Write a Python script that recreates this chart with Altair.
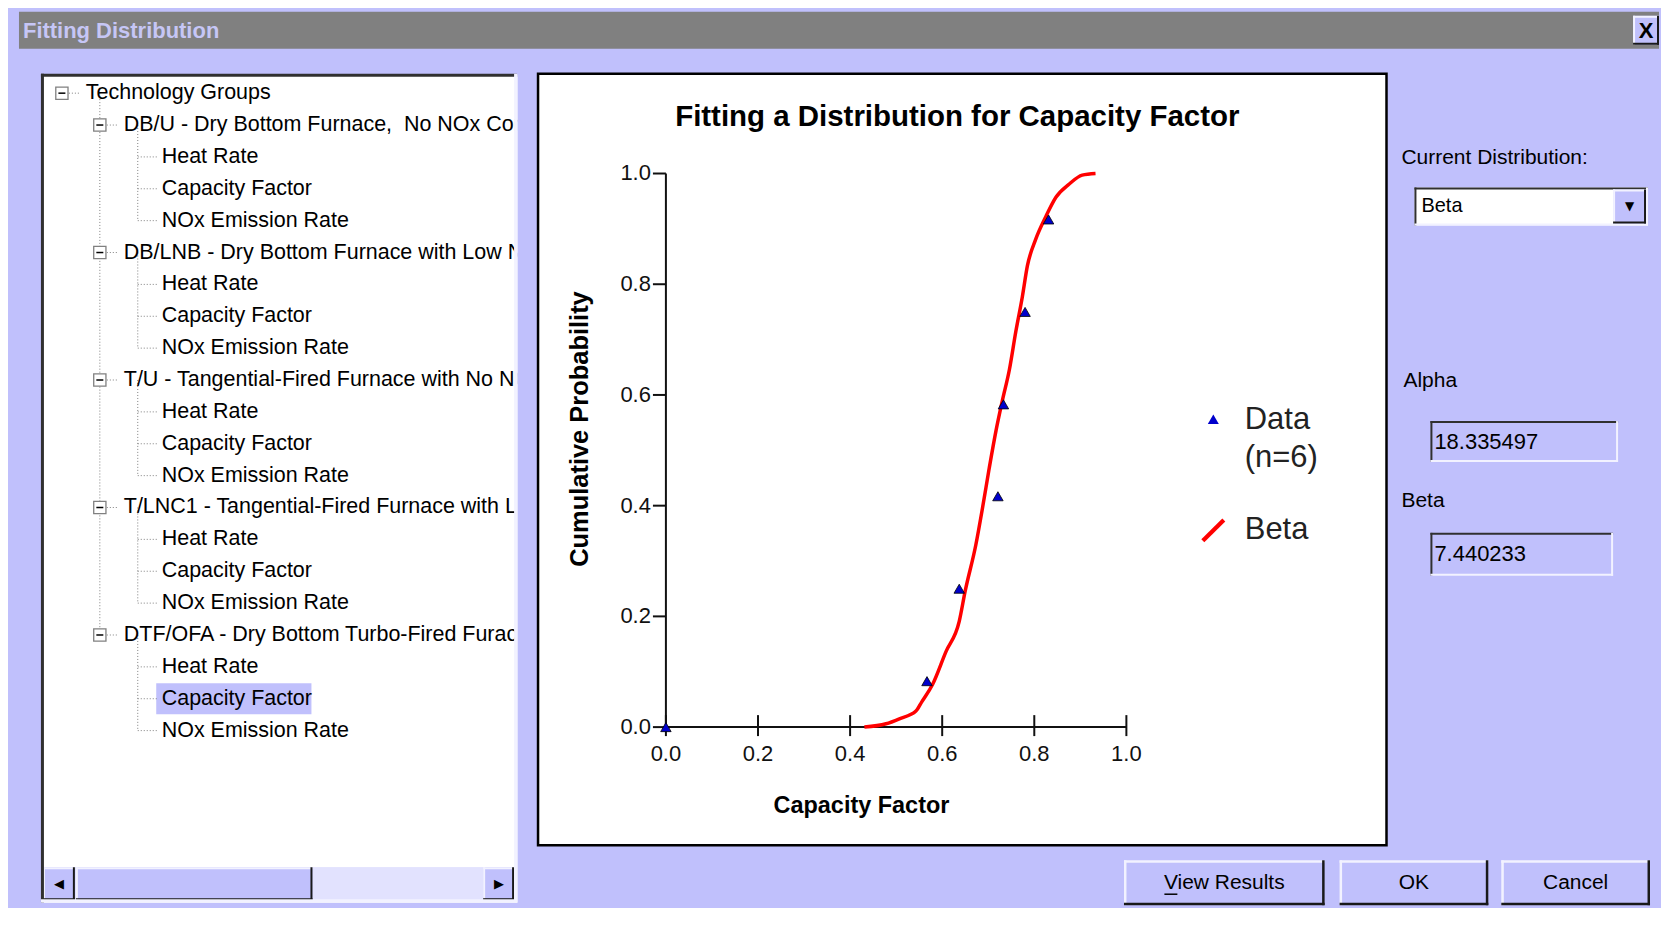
import altair as alt
import pandas as pd

# ---------------- values ----------------
X_TICKS = [0.0, 0.2, 0.4, 0.6, 0.8, 1.0]
Y_TICKS = [0.0, 0.2, 0.4, 0.6, 0.8, 1.0]

DATA_X = [0.0, 0.567, 0.637, 0.721, 0.733, 0.780, 0.831]
DATA_Y = [0.0, 0.083, 0.250, 0.417, 0.583, 0.750, 0.917]

CURVE_X = [0.431, 0.478, 0.507, 0.543, 0.556, 0.579, 0.608, 0.637, 0.650, 0.673,
           0.688, 0.702, 0.717, 0.731, 0.746, 0.760, 0.774, 0.785, 0.803, 0.825,
           0.847, 0.876, 0.904, 0.933]
CURVE_Y = [0.000, 0.006, 0.015, 0.029, 0.046, 0.077, 0.136, 0.191, 0.246, 0.329,
           0.398, 0.467, 0.536, 0.591, 0.646, 0.715, 0.777, 0.833, 0.881, 0.922,
           0.957, 0.981, 0.997, 1.000]

SERIES = ["Data", "Beta"]
N_OBS = 6
CHART_TITLE = "Fitting a Distribution for Capacity Factor"
X_TITLE = "Capacity Factor"
Y_TITLE = "Cumulative Probability"

WINDOW_TITLE = "Fitting Distribution"
DIST_LABEL = "Current Distribution:"
DIST_NAME = "Beta"
PARAM_NAMES = ["Alpha", "Beta"]
PARAM_VALUES = ["18.335497", "7.440233"]
BUTTONS = ["View Results", "OK", "Cancel"]

GROUP_ITEMS = ["Heat Rate", "Capacity Factor", "NOx Emission Rate"]
GROUPS = [
    "DB/U - Dry Bottom Furnace,\u00a0 No NOx Control",
    "DB/LNB - Dry Bottom Furnace with Low NOx Burners",
    "T/U - Tangential-Fired Furnace with No NOx Control",
    "T/LNC1 - Tangential-Fired Furnace with LNC1",
    "DTF/OFA - Dry Bottom Turbo-Fired Furace with Overfire Air",
]
TREE_ROOT = "Technology Groups"
SELECTED_ROW = 19

# ---------------- styling ----------------
LAV = "#C0C0FC"
LIGHT = "#F2F2FF"
DARK = "#1A1A1A"
FONT = "Liberation Sans"
SYMF = "DejaVu Sans"
ONE = pd.DataFrame({"k": [0]})


def txt(label, x, y, size=20, align="left", weight="normal", color="black", font=FONT, angle=0):
    return alt.Chart(pd.DataFrame({"t": [label]})).mark_text(
        align=align, baseline="middle", fontSize=size, fontWeight=weight,
        color=color, font=font, angle=angle
    ).encode(x=alt.value(x), y=alt.value(y), text="t:N")


def box(x0, y0, x1, y1, fill, tl, br, w=2):
    b = alt.Chart(ONE)
    layers = []
    if fill:
        layers.append(b.mark_rect(fill=fill).encode(
            x=alt.value(x0), x2=alt.value(x1), y=alt.value(y0), y2=alt.value(y1)))
    h = w / 2
    layers += [
        b.mark_rule(color=tl, strokeWidth=w).encode(x=alt.value(x0), x2=alt.value(x1), y=alt.value(y0 + h)),
        b.mark_rule(color=tl, strokeWidth=w).encode(x=alt.value(x0 + h), y=alt.value(y0), y2=alt.value(y1)),
        b.mark_rule(color=br, strokeWidth=w).encode(x=alt.value(x0), x2=alt.value(x1), y=alt.value(y1 - h)),
        b.mark_rule(color=br, strokeWidth=w).encode(x=alt.value(x1 - h), y=alt.value(y0), y2=alt.value(y1)),
    ]
    return layers


# ---------------- left strip carrying the window title bar ----------------
HT, HB = -62, -25          # title bar above the panels
hdr = [alt.Chart(ONE).mark_rect(fill="#808080").encode(
    x=alt.value(0), x2=alt.value(1643), y=alt.value(HT), y2=alt.value(HB))]
hdr += [txt(WINDOW_TITLE, 4, HT + 19, size=22, weight="bold", color="#C6C6F6")]
hdr += box(1617, HT + 4, 1643, HT + 33, LAV, LIGHT, DARK)
hdr += [txt("X", 1630, HT + 19, size=22, align="center", weight="bold")]
strip = alt.layer(*hdr).properties(
    width=1, height=10, view=alt.ViewBackground(stroke="transparent"))

# ---------------- tree panel ----------------
TW, TH = 477, 830
labels, levels = [TREE_ROOT], [0]
for g in GROUPS:
    labels.append(g)
    levels.append(1)
    for it in GROUP_ITEMS:
        labels.append(it)
        levels.append(2)
n = len(labels)
rows = pd.DataFrame({"row": list(range(n)), "level": levels, "label": labels})
rows["box"] = [i + 1 < n and levels[i + 1] > levels[i] for i in range(n)]
rows["sel"] = rows["row"] == SELECTED_ROW

vrows = []
for i in range(n):
    if rows["box"][i]:
        last, j = i, i + 1
        while j < n and levels[j] > levels[i]:
            if levels[j] == levels[i] + 1:
                last = j
            j += 1
        vrows.append({"level": levels[i] + 1, "r0": i, "r1": last})
vdf = pd.DataFrame(vrows)

xs = alt.Scale(domain=[-45 / 38, (TW - 45) / 38], nice=False, zero=False)
ys = alt.Scale(domain=[-19.5 / 31.93, (TH - 19.5) / 31.93], nice=False, zero=False, reverse=True)
TX = alt.X("level:Q", scale=xs, axis=None)
TY = alt.Y("row:Q", scale=ys, axis=None)
tb = alt.Chart(rows)
GRAYDOT = dict(color="#808080", strokeDash=[1, 2], strokeWidth=1)

tree_layers = [
    tb.transform_filter("datum.sel").mark_rect(
        color=LAV, xOffset=-5.5, x2Offset=150, yOffset=-15.5, y2Offset=15.5
    ).encode(x=TX, x2=alt.X2("level"), y=TY, y2=alt.Y2("row")),
    alt.Chart(vdf).mark_rule(xOffset=-24, **GRAYDOT).encode(
        x=alt.X("level:Q", scale=xs, axis=None),
        y=alt.Y("r0:Q", scale=ys, axis=None), y2=alt.Y2("r1")),
    tb.transform_filter("datum.box").mark_rule(xOffset=-17, x2Offset=-5, **GRAYDOT).encode(
        x=TX, x2=alt.X2("level"), y=TY),
    tb.transform_filter("!datum.box").mark_rule(xOffset=-24, x2Offset=-5, **GRAYDOT).encode(
        x=TX, x2=alt.X2("level"), y=TY),
    tb.transform_filter("datum.box").mark_square(
        size=150, filled=True, fill="white", stroke="#808080", strokeWidth=1.3,
        opacity=1, xOffset=-24).encode(x=TX, y=TY),
    tb.transform_filter("datum.box").mark_rule(
        color="black", strokeWidth=1.5, xOffset=-27.5, x2Offset=-20.5).encode(
        x=TX, x2=alt.X2("level"), y=TY),
    tb.mark_text(align="left", baseline="middle", fontSize=21.5, font=FONT,
                 color="black", clip=True).encode(x=TX, y=TY, text="label:N"),
]
SB0, SB1 = 795, 828
tree_layers += box(2, SB0, 474, SB1, "#E2E2FE", "#E2E2FE", "#E2E2FE", 1)
tree_layers += box(2, SB0, 34, SB1, LAV, LIGHT, DARK)
tree_layers += box(35, SB0, 272, SB1, LAV, LIGHT, DARK)
tree_layers += box(443, SB0, 474, SB1, LAV, LIGHT, DARK)
tree_layers += [txt("◀", 18, 812, size=13, align="center", font=SYMF),
                txt("▶", 459, 812, size=13, align="center", font=SYMF)]
tree_layers += box(0, 0, TW, TH, None, "#303030", LIGHT, 3)

tree_panel = alt.layer(*tree_layers).properties(
    width=TW, height=TH, view=alt.ViewBackground(fill="white", stroke="transparent"))

# ---------------- chart panel ----------------
CW, CH = 850, 773
cx = alt.Scale(domain=[-0.2777, 1.5649], nice=False, zero=False)
cy = alt.Scale(domain=[-0.2135, 1.1803], nice=False, zero=False)

curve_df = pd.DataFrame({"x": CURVE_X, "y": CURVE_Y})
pts_df = pd.DataFrame({"x": DATA_X, "y": DATA_Y, "series": SERIES[0]})
axis_df = pd.DataFrame({"x0": [X_TICKS[0]], "x1": [X_TICKS[-1]],
                        "y0": [Y_TICKS[0]], "y1": [Y_TICKS[-1]]})
xt_df = pd.DataFrame({"v": X_TICKS, "z": [Y_TICKS[0]] * len(X_TICKS)})
yt_df = pd.DataFrame({"v": Y_TICKS, "z": [X_TICKS[0]] * len(Y_TICKS)})

TRI = "M0,-0.42L0.46,0.38L-0.46,0.38Z"
SLASH = "M-1,0.75L0.75,-1L1,-0.75L-0.75,1Z"
leg = alt.Legend(title=None, orient="none", legendX=1181, legendY=331, padding=0,
                 symbolSize=576, symbolStrokeWidth=0, labelFontSize=31, labelFont=FONT,
                 labelColor="#222", labelOffset=16, rowPadding=40, labelLimit=400,
                 labelExpr="datum.label == 'Data' ? ['Data', '(n=%d)'] : datum.label" % N_OBS)


def nx(f):
    return alt.X(f, scale=cx, axis=None)


def ny(f):
    return alt.Y(f, scale=cy, axis=None)


INK = "#111111"
chart_panel = alt.layer(
    txt(CHART_TITLE, 420, 43, size=29.5, align="center", weight="bold"),
    txt(X_TITLE, 324, 734, size=23.5, align="center", weight="bold"),
    txt(Y_TITLE, 42, 356, size=25.5, align="center", weight="bold", angle=270),
    alt.Chart(axis_df).mark_rule(color=INK, strokeWidth=2).encode(
        x=nx("x0:Q"), x2=alt.X2("x1"), y=ny("y0:Q")),
    alt.Chart(axis_df).mark_rule(color=INK, strokeWidth=2).encode(
        x=nx("x0:Q"), y=ny("y0:Q"), y2=alt.Y2("y1")),
    alt.Chart(xt_df).mark_tick(orient="vertical", size=21, thickness=2, color=INK,
                               yOffset=-1.5, opacity=1).encode(x=nx("v:Q"), y=ny("z:Q")),
    alt.Chart(yt_df).mark_tick(orient="horizontal", size=13, thickness=2, color=INK,
                               xOffset=-6.5, opacity=1).encode(x=nx("z:Q"), y=ny("v:Q")),
    alt.Chart(xt_df).mark_text(align="center", baseline="middle", fontSize=22, font=FONT,
                               color=INK, dy=27).encode(
        x=nx("v:Q"), y=ny("z:Q"), text=alt.Text("v:Q", format=".1f")),
    alt.Chart(yt_df).mark_text(align="right", baseline="middle", fontSize=22, font=FONT,
                               color=INK, dx=-15).encode(
        x=nx("z:Q"), y=ny("v:Q"), text=alt.Text("v:Q", format=".1f")),
    alt.Chart(curve_df).mark_line(color="#FF0000", strokeWidth=3.5, interpolate="monotone").encode(
        x=nx("x:Q"), y=ny("y:Q")),
    alt.Chart(pts_df).mark_point(shape="triangle-up", filled=True, fill="#0000CC",
                                 stroke="black", strokeWidth=0.8, size=110, opacity=1).encode(
        x=nx("x:Q"), y=ny("y:Q")),
    alt.Chart(pts_df).transform_filter("false").mark_point(filled=True, opacity=1, size=110).encode(
        x=nx("x:Q"), y=ny("y:Q"),
        color=alt.Color("series:N", scale=alt.Scale(domain=SERIES, range=["#0000CC", "#FF0000"]), legend=leg),
        shape=alt.Shape("series:N", scale=alt.Scale(domain=SERIES, range=[TRI, SLASH]), legend=leg)),
).properties(width=CW, height=CH,
             view=alt.ViewBackground(fill="white", stroke="black", strokeWidth=2.5))

# ---------------- right panel (also carries the dialog buttons) ----------------
RW = 252
R = [txt(DIST_LABEL, -6, 84.5, size=21)]
R += box(7, 114, 241, 152, "white", "#303030", LIGHT)
R += [txt(DIST_NAME, 14, 133, size=20)]
R += box(206, 116, 239, 150, LAV, LIGHT, DARK)
R += [txt("▼", 222.5, 133, size=12, align="center", font=SYMF)]
R += [txt(PARAM_NAMES[0], -4, 308, size=21)]
R += box(23, 348, 211, 389, LAV, "#303030", LIGHT)
R += [txt(PARAM_VALUES[0], 27, 368.5, size=22)]
R += [txt(PARAM_NAMES[1], -6, 428, size=21)]
R += box(23, 460, 206, 503, LAV, "#303030", LIGHT)
R += [txt(PARAM_VALUES[1], 27, 481.5, size=22)]

BY0, BY1 = 788, 833
BX = [(-284, -83), (-68, 81), (94, 243)]
for label, (b0, b1) in zip(BUTTONS, BX):
    R += box(b0, BY0, b1, BY1, LAV, LIGHT, DARK, 2.5)
    R += [txt(label, (b0 + b1) / 2, (BY0 + BY1) / 2, size=21, align="center")]
    if label.startswith("View"):
        mid = (b0 + b1) / 2
        R.append(alt.Chart(ONE).mark_rule(color="black", strokeWidth=1.5).encode(
            x=alt.value(mid - 60), x2=alt.value(mid - 47), y=alt.value(BY0 + 34)))

right_panel = alt.layer(*R).properties(
    width=RW, height=CH, view=alt.ViewBackground(stroke="transparent"))

chart = alt.hconcat(strip, tree_panel, chart_panel, right_panel, spacing=21, bounds="flush").properties(
    padding={"left": 10, "top": 2, "right": 0, "bottom": 0}
).configure(
    background=LAV, font=FONT, style={"guide-label": {"lineHeight": 39}}
).configure_view(stroke="transparent")

chart.save("out.html", embed_options={"renderer": "svg", "actions": False})
